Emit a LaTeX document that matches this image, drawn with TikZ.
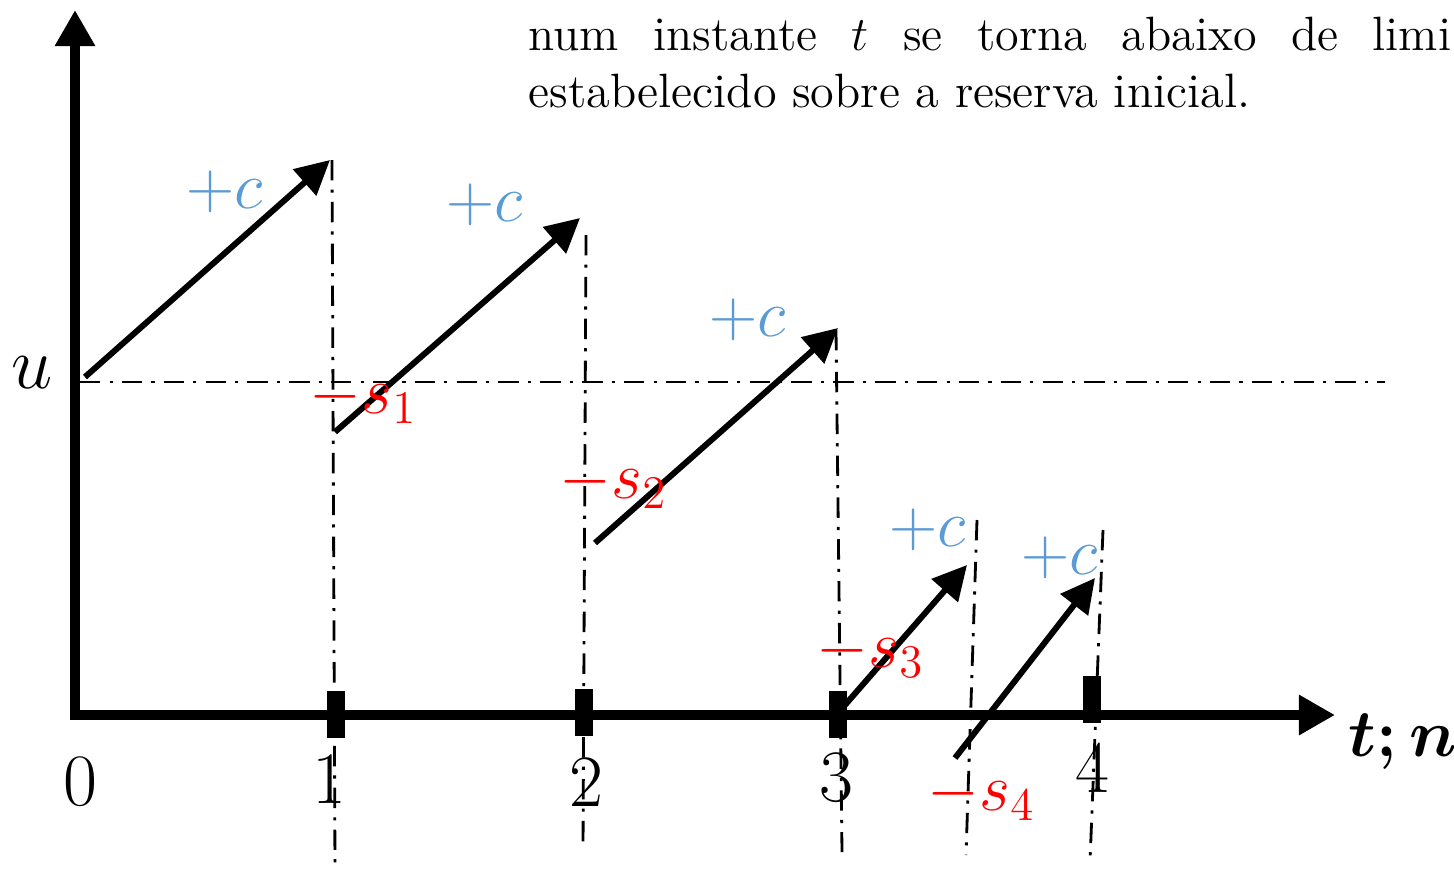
\RequirePackage{fix-cm}
\documentclass[tikz,border=0pt]{standalone}
\usepackage{amsmath}
\usepackage{fontspec}
\usetikzlibrary{arrows.meta}
\definecolor{gainblue}{RGB}{91,155,213}
\definecolor{lossred}{RGB}{255,0,0}

\begin{document}
\begin{tikzpicture}[
  x=0.01cm, y=-0.01cm,
  axis/.style={line width=2.7pt, -{Triangle[length=0.36cm, width=0.38cm]}},
  jump/.style={line width=1.7pt, -{Triangle[length=0.34cm, width=0.34cm]}},
  guide/.style={line width=0.8pt,
              dash pattern=on 5.8pt off 2.6pt on 0.9pt off 2.6pt},
  tickbox/.style={rectangle, fill=black, inner sep=0pt,
              minimum width=0.18cm, minimum height=0.47cm},
  ticklbl/.style={inner sep=0pt, font=\fontsize{21}{25}\selectfont},
  gain/.style={inner sep=0pt, text=gainblue, font=\fontsize{19}{23}\selectfont},
  loss/.style={inner sep=0pt, anchor=base west, text=lossred,
              font=\fontsize{19}{23}\selectfont},
  txt/.style={inner sep=0pt, anchor=base west,
              font=\fontsize{13.7}{16.2}\selectfont}
]
\useasboundingbox (0,0) rectangle (1454,869);

% ── Text above the picture ──
\node[txt] (line1) at (528,50)
  {\makebox[9.22cm][s]{num instante $t$ se torna abaixo de limi}};
\node[txt] (line2) at (528,107) {estabelecido sobre a reserva inicial.};

% ── Points: axes, jumps and guide ends ──
\coordinate (ytop) at (75,10);
\coordinate (ybot) at (75,720);
\coordinate (x0)   at (70,715);
\coordinate (xend) at (1335,715);

\coordinate (a1s) at (85,377);   \coordinate (a1e) at (330,160);
\coordinate (a2s) at (335,432);  \coordinate (a2e) at (580,218);
\coordinate (a3s) at (595,543);  \coordinate (a3e) at (838,328);
\coordinate (a4s) at (845,705);  \coordinate (a4e) at (967,565);
\coordinate (a5s) at (955,758);  \coordinate (a5e) at (1095,578);

\coordinate (v1t) at (332,160);  \coordinate (v1b) at (335,869);
\coordinate (v2t) at (586,235);  \coordinate (v2b) at (583,850);
\coordinate (v3t) at (836,330);  \coordinate (v3b) at (842,852);
\coordinate (v4t) at (977,520);  \coordinate (v4b) at (966,855);
\coordinate (v5t) at (1103,530); \coordinate (v5b) at (1090,862);
\coordinate (hl)  at (80,382);   \coordinate (hr)  at (1385,382);

% ── Dash-dot guides ──
\draw[guide] (hl) -- (hr);
\draw[guide] (v1t) -- (v1b);
\draw[guide] (v2t) -- (v2b);
\draw[guide] (v3t) -- (v3b);
\draw[guide] (v4t) -- (v4b);
\draw[guide] (v5t) -- (v5b);

% ── Axes ──
\draw[axis] (ybot) -- (ytop);
\draw[axis] (x0) -- (xend);

% ── Tick marks and their labels ──
\node[tickbox] (k1) at (336,714) {};
\node[tickbox] (k2) at (584,712) {};
\node[tickbox] (k3) at (838,714) {};
\node[tickbox] (k4) at (1092,699) {};

\node[ticklbl] (n0) at (80,782)   {0};
\node[ticklbl] (n1) at (329,779)  {1};
\node[ticklbl] (n2) at (586,782)  {2};
\node[ticklbl] (n3) at (836,778)  {3};
\node[ticklbl] (n4) at (1092,768) {4};

\node[ticklbl] (u)  at (32,373)   {$u$};
\node[ticklbl, font=\fontsize{19}{23}\selectfont] (tn) at (1403,742)
  {$\boldsymbol{t;n}$};

% ── Premium jumps ──
\draw[jump] (a1s) -- (a1e);
\draw[jump] (a2s) -- (a2e);
\draw[jump] (a3s) -- (a3e);
\draw[jump] (a4s) -- (a4e);
\draw[jump] (a5s) -- (a5e);

\node[gain] (c1) at (225,192)  {$+c$};
\node[gain] (c2) at (485,205)  {$+c$};
\node[gain] (c3) at (748,320)  {$+c$};
\node[gain] (c4) at (928,530)  {$+c$};
\node[gain] (c5) at (1060,558) {$+c$};

% ── Claims ──
\node[loss] (s1) at (309,413) {$-s_1$};
\node[loss] (s2) at (559,498) {$-s_2$};
\node[loss] (s3) at (816,667) {$-s_3$};
\node[loss] (s4) at (927,810) {$-s_4$};

\end{tikzpicture}
\end{document}
